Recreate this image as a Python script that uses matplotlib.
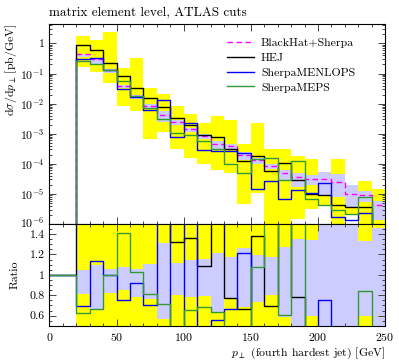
import numpy as np
import matplotlib
matplotlib.use("Agg")
import matplotlib.pyplot as plt
import matplotlib.transforms as mtransforms
from matplotlib.ticker import MultipleLocator, LogLocator, NullFormatter

plt.rcParams['font.family'] = 'serif'
plt.rcParams['font.serif'] = ['cmr10', 'DejaVu Serif']
plt.rcParams['mathtext.fontset'] = 'cm'
plt.rcParams['axes.formatter.use_mathtext'] = True
plt.rcParams['font.size'] = 8.5

# bin edges in GeV (first bin 0-20 is empty)
edges = [0, 20, 30, 40, 50, 60, 70, 80, 90, 100, 110, 120, 130, 140, 150,
         160, 170, 180, 190, 200, 210, 220, 230, 240, 250]

# BlackHat+Sherpa central value and its band
bh = [0, 0.43, 0.30, 0.13, 0.040, 0.018, 0.0085, 0.0042, 0.0025, 0.0014,
      8.3e-4, 4.7e-4, 3.9e-4, 1.9e-4, 1.3e-4, 8.5e-5, 4.8e-5, 3.7e-5,
      3.2e-5, 3.0e-5, 2.5e-5, 1.0e-5, 9.0e-6, 4.1e-6]
bh_lo = [0, 0.35, 0.20, 0.107, 0.034, 0.014, 0.0065, 0.0024, 0.0020, 0.0011,
         6.6e-4, 3.0e-4, 3.0e-4, 1.3e-4, 9.5e-5, 6.8e-5, 2.8e-5, 1.7e-5,
         1.9e-5, 9.0e-6, 8.0e-6, 3.5e-6, 5.4e-6, 1.4e-6]
bh_hi = [0, 0.45, 0.33, 0.137, 0.043, 0.019, 0.0094, 0.0055, 0.0028, 0.0016,
         9.6e-4, 5.7e-4, 4.6e-4, 2.4e-4, 1.55e-4, 1.0e-4, 6.1e-5, 5.0e-5,
         4.3e-5, 5.5e-5, 4.5e-5, 1.9e-5, 1.2e-5, 6.0e-6]

# HEJ central value and its band
hej = [0, 0.88, 0.62, 0.22, 0.080, 0.032, 0.015, 0.0077, 0.0033, 0.0019,
       9.0e-4, 7.5e-4, 3.0e-4, 1.27e-4, 1.8e-4, 5.9e-5, 1.04e-4, 2.9e-5,
       1.0e-5, 9.1e-6, 4.1e-6, 3.6e-6, 3.6e-6, 0]
hej_lo = [0, 0.16, 0.115, 0.05, 0.0085, 0.0055, 6.5e-4, 0.0011, 3.0e-4, 1.5e-4,
          1.0e-4, 6.0e-5, 5.0e-5, 4.6e-6, 1.1e-5, 8e-7, 8e-7, 1.5e-6,
          3.2e-6, 4.0e-6, 8e-7, 2.0e-6, 8e-7, 8e-7]
hej_hi = [0, 1.78, 1.3, 2.5, 0.15, 0.32, 0.033, 0.021, 0.0081, 0.0045,
          0.0023, 0.0038, 0.0028, 4.5e-4, 2.3e-3, 3.0e-4, 3.0e-4, 1.8e-4,
          1.4e-4, 5.0e-5, 1.4e-4, 1.9e-5, 2.7e-5, 1.5e-5]

# Sherpa MENLOPS and MEPS
menlops = [0, 0.30, 0.34, 0.13, 0.030, 0.0165, 0.006, 0.0135, 7.9e-4, 0.0023,
           2.8e-4, 2.6e-4, 2.6e-4, 2.3e-4, 1.4e-5, 2.7e-5, 6.7e-6, 1.35e-5,
           1.1e-5, 2.25e-5, 1.7e-6, 1.4e-6, 2.3e-6, 0]
meps = [0, 0.27, 0.20, 0.13, 0.0565, 0.0185, 0.0069, 0.0030, 1.07e-3, 9.2e-4,
        5.7e-4, 3.0e-4, 1.0e-4, 4.8e-5, 1.4e-4, 1.6e-4, 2.9e-5, 1.2e-4,
        7.0e-6, 4.4e-6, 2.9e-6, 2.1e-6, 7.6e-6, 0]

edges = np.array(edges, dtype=float)
bh = np.array(bh)


def step_vals(v):
    v = np.asarray(v, dtype=float)
    return np.append(v, v[-1])


def band(v):
    v = np.asarray(v, dtype=float).copy()
    v[bh == 0] = np.nan
    return v


def ratio(v):
    v = np.asarray(v, dtype=float)
    r = np.ones_like(v)
    nz = bh > 0
    r[nz] = v[nz] / bh[nz]
    return r


yellow = '#ffff00'
lavender = '#ccccff'
green = '#339933'

fig = plt.figure(figsize=(3.99, 3.6), dpi=100)
ax = fig.add_axes([0.124, 0.378, 0.841, 0.555])
axr = fig.add_axes([0.124, 0.095, 0.841, 0.283], sharex=ax)

# upper panel
ax.fill_between(edges, step_vals(band(hej_lo)), step_vals(band(hej_hi)),
                step='post', color=yellow, lw=0)
ax.fill_between(edges, step_vals(band(bh_lo)), step_vals(band(bh_hi)),
                step='post', color=lavender, lw=0)
ax.step(edges, step_vals(bh), where='post', color='#ff00ff', lw=1.0,
        dashes=(4, 2.5), label='BlackHat+Sherpa')
ax.step(edges, step_vals(hej), where='post', color='black', lw=1.0, label='HEJ')
ax.step(edges, step_vals(menlops), where='post', color='#0000ff', lw=1.0,
        label='SherpaMENLOPS')
ax.step(edges, step_vals(meps), where='post', color=green, lw=1.0,
        label='SherpaMEPS')
ax.set_yscale('log')
ax.set_ylim(1e-6, 4.4)
ax.set_xlim(0, 250)
ax.set_ylabel(r'$\mathrm{d}\sigma/\mathrm{d}p_\perp\,[\mathrm{pb/GeV}]$',
              loc='top', labelpad=1)
ax.yaxis.set_minor_locator(LogLocator(base=10, subs=np.arange(2, 10), numticks=20))
ax.yaxis.set_minor_formatter(NullFormatter())
ax.tick_params(labelbottom=False)
ax.set_yticks([1, 1e-1, 1e-2, 1e-3, 1e-4, 1e-5, 1e-6])
ax.set_yticklabels(['1', r'$10^{-1}$', r'$10^{-2}$', r'$10^{-3}$',
                    r'$10^{-4}$', r'$10^{-5}$', r'$10^{-6}$'])
ax.legend(loc='upper left', bbox_to_anchor=(0.528, 0.93), frameon=False,
          handlelength=2.3, handletextpad=0.6, labelspacing=0.38,
          borderaxespad=0, borderpad=0, fontsize=8.5)
ax.text(0.0, 1.03, 'matrix element level, ATLAS cuts',
        transform=ax.transAxes, ha='left', va='bottom', fontsize=9.5)

# ratio panel
axr.fill_between(edges, step_vals(ratio(band(hej_lo))), step_vals(ratio(band(hej_hi))),
                 step='post', color=yellow, lw=0)
axr.fill_between(edges, step_vals(ratio(band(bh_lo))), step_vals(ratio(band(bh_hi))),
                 step='post', color=lavender, lw=0)
axr.step(edges, step_vals(ratio(hej)), where='post', color='black', lw=1.0)
axr.step(edges, step_vals(ratio(menlops)), where='post', color='#0000ff', lw=1.0)
axr.step(edges, step_vals(ratio(meps)), where='post', color=green, lw=1.0)
axr.set_ylim(0.5, 1.5)
axr.set_xlim(0, 250)
axr.set_yticks([0.6, 0.8, 1.0, 1.2, 1.4])
axr.set_yticklabels(['0.6', '0.8', '1', '1.2', '1.4'])
axr.yaxis.set_minor_locator(MultipleLocator(0.05))
axr.set_ylabel('Ratio', labelpad=7)
axr.set_xlabel(r'$p_\perp$ (fourth hardest jet) [GeV]', loc='right', labelpad=2)
axr.xaxis.set_major_locator(MultipleLocator(50))
axr.xaxis.set_minor_locator(MultipleLocator(10))

for a in (ax, axr):
    a.tick_params(which='both', direction='in', top=True, right=True,
                  colors='#444444', labelcolor='black', width=0.7)
    a.tick_params(which='major', length=5)
    a.tick_params(which='minor', length=2.5)
    for s in a.spines.values():
        s.set_linewidth(0.8)
        s.set_zorder(5)

# nudge the lowest log label up a little so it clears the "1.4" label
lab = ax.get_yticklabels()[-1]
lab.set_transform(lab.get_transform() +
                  mtransforms.ScaledTranslation(0, 2 / 72, fig.dpi_scale_trans))

fig.savefig('out.png', dpi=100)
